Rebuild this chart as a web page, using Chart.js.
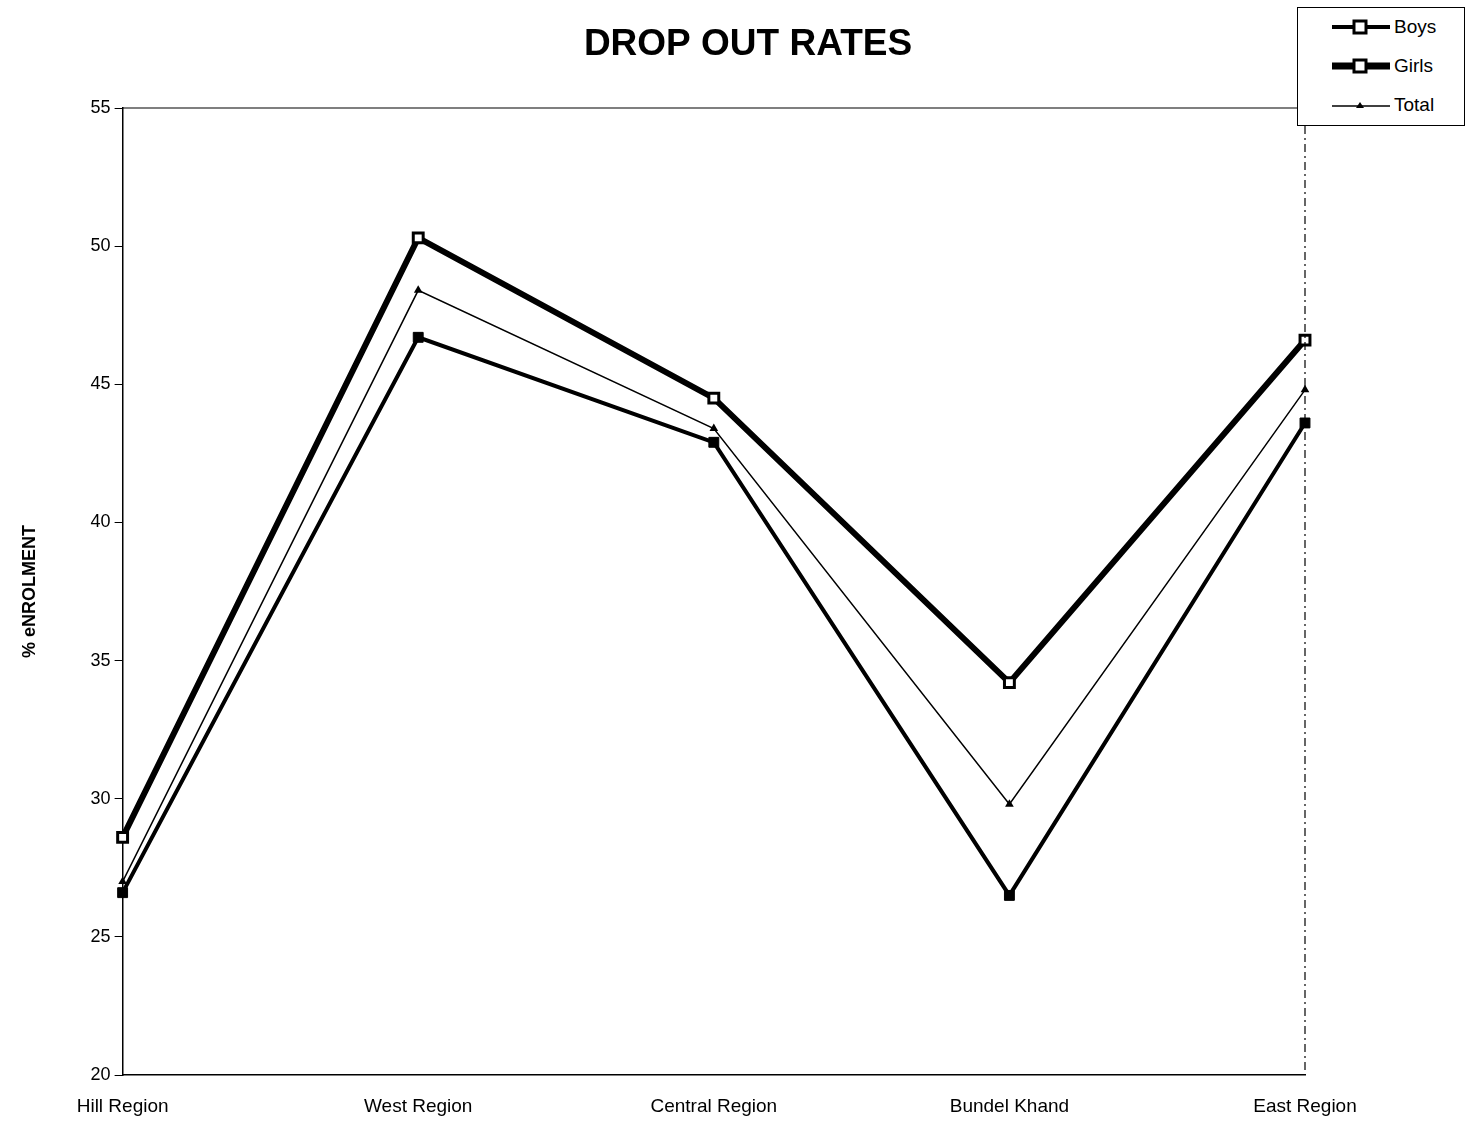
<!DOCTYPE html>
<html><head><meta charset="utf-8">
<script src="https://cdn.jsdelivr.net/npm/chart.js@4/dist/chart.umd.min.js"></script>
<style>
html,body{margin:0;padding:0;background:#fff;}
#wrap{position:relative;width:1470px;height:1125px;}
#legend{position:absolute;left:1297px;top:7px;width:166px;height:117px;border:1.5px solid #000;background:#fff;font-family:"Liberation Sans",Arial,sans-serif;font-size:19px;}
.item{position:absolute;left:30px;height:20px;display:flex;align-items:center;}
.item svg{margin-right:2px;}
</style></head><body>
<div id="wrap">
<canvas id="c" width="1470" height="1125"></canvas>
<div id="legend">
 <div class="item" style="top:9px"><svg width="64" height="20"><line x1="4" y1="10" x2="62" y2="10" stroke="#000" stroke-width="4"/><rect x="26" y="4" width="12" height="12" fill="#fff" stroke="#000" stroke-width="3"/></svg>Boys</div>
 <div class="item" style="top:48px"><svg width="64" height="20"><line x1="4" y1="10" x2="62" y2="10" stroke="#000" stroke-width="7"/><rect x="26" y="4" width="12" height="12" fill="#fff" stroke="#000" stroke-width="3"/></svg>Girls</div>
 <div class="item" style="top:87px"><svg width="64" height="20"><line x1="4" y1="11" x2="62" y2="11" stroke="#000" stroke-width="1.5"/><polygon points="32,7 36,13 28,13" fill="#000"/></svg>Total</div>
</div>
</div>
<script>
const categories = ["Hill Region", "West Region", "Central Region", "Bundel Khand", "East Region"];
const girls = [28.6, 50.3, 44.5, 34.2, 46.6];
const boys = [26.6, 46.7, 42.9, 26.5, 43.6];
const total = [27.0, 48.4, 43.4, 29.8, 44.8];
const yTicks = [20, 25, 30, 35, 40, 45, 50, 55];
const chartTitle = 'DROP OUT RATES';

const frame = {
  id: 'frame',
  afterDraw(chart) {
    const {ctx, chartArea: a} = chart;
    ctx.save();
    ctx.strokeStyle = '#000';
    ctx.lineWidth = 1.2;
    ctx.beginPath(); ctx.moveTo(a.left, a.top); ctx.lineTo(a.right, a.top); ctx.stroke();
    ctx.setLineDash([8, 4, 2, 4]);
    ctx.beginPath(); ctx.moveTo(a.right, a.top); ctx.lineTo(a.right, a.bottom); ctx.stroke();
    ctx.setLineDash([]);
    ctx.fillStyle = '#000';
    ctx.font = 'bold 37px "Liberation Sans", Arial, sans-serif';
    ctx.textAlign = 'center';
    ctx.textBaseline = 'middle';
    ctx.fillText(chartTitle, 748, 45);
    ctx.restore();
  }
};

new Chart(document.getElementById('c'), {
  type: 'line',
  data: {
    labels: categories,
    datasets: [
      {label: 'Boys', data: boys, borderColor: '#000', backgroundColor: '#000', borderWidth: 4,
       pointStyle: 'rect', pointRadius: 7, pointBorderWidth: 1, pointBackgroundColor: '#000', tension: 0},
      {label: 'Girls', data: girls, borderColor: '#000', backgroundColor: '#fff', borderWidth: 6,
       pointStyle: 'rect', pointRadius: 7, pointBorderWidth: 3, pointBackgroundColor: '#fff', pointBorderColor: '#000', tension: 0},
      {label: 'Total', data: total, borderColor: '#000', backgroundColor: '#000', borderWidth: 1.5,
       pointStyle: 'triangle', pointRadius: 5, pointBorderWidth: 0, pointBackgroundColor: '#000', tension: 0}
    ]
  },
  options: {
    responsive: false,
    animation: false,
    layout: {padding: {left: 15, right: 165, top: 108, bottom: 6}},
    plugins: {
      legend: {display: false},
      tooltip: {enabled: false},
      title: {display: false}
    },
    scales: {
      x: {
        offset: false,
        afterFit(s) { s.height = 44; },
        grid: {display: true, drawOnChartArea: false, drawTicks: false, color: '#000'},
        border: {display: true, color: '#000', width: 1.5},
        ticks: {color: '#000', padding: 20, maxRotation: 0,
          font: {family: '"Liberation Sans", Arial, sans-serif', size: 19}}
      },
      y: {
        min: 20, max: 55,
        afterBuildTicks(s) { s.ticks = yTicks.map(v => ({value: v})); },
        grid: {display: true, drawOnChartArea: false, tickLength: 8, color: '#000'},
        border: {display: true, color: '#000', width: 1.5},
        ticks: {color: '#000', padding: 4,
          font: {family: '"Liberation Sans", Arial, sans-serif', size: 18}},
        title: {display: true, text: '% eNROLMENT', color: '#000', padding: {bottom: 46},
          font: {family: '"Liberation Sans", Arial, sans-serif', size: 18, weight: 'bold'}}
      }
    }
  },
  plugins: [frame]
});
</script>
</body></html>
